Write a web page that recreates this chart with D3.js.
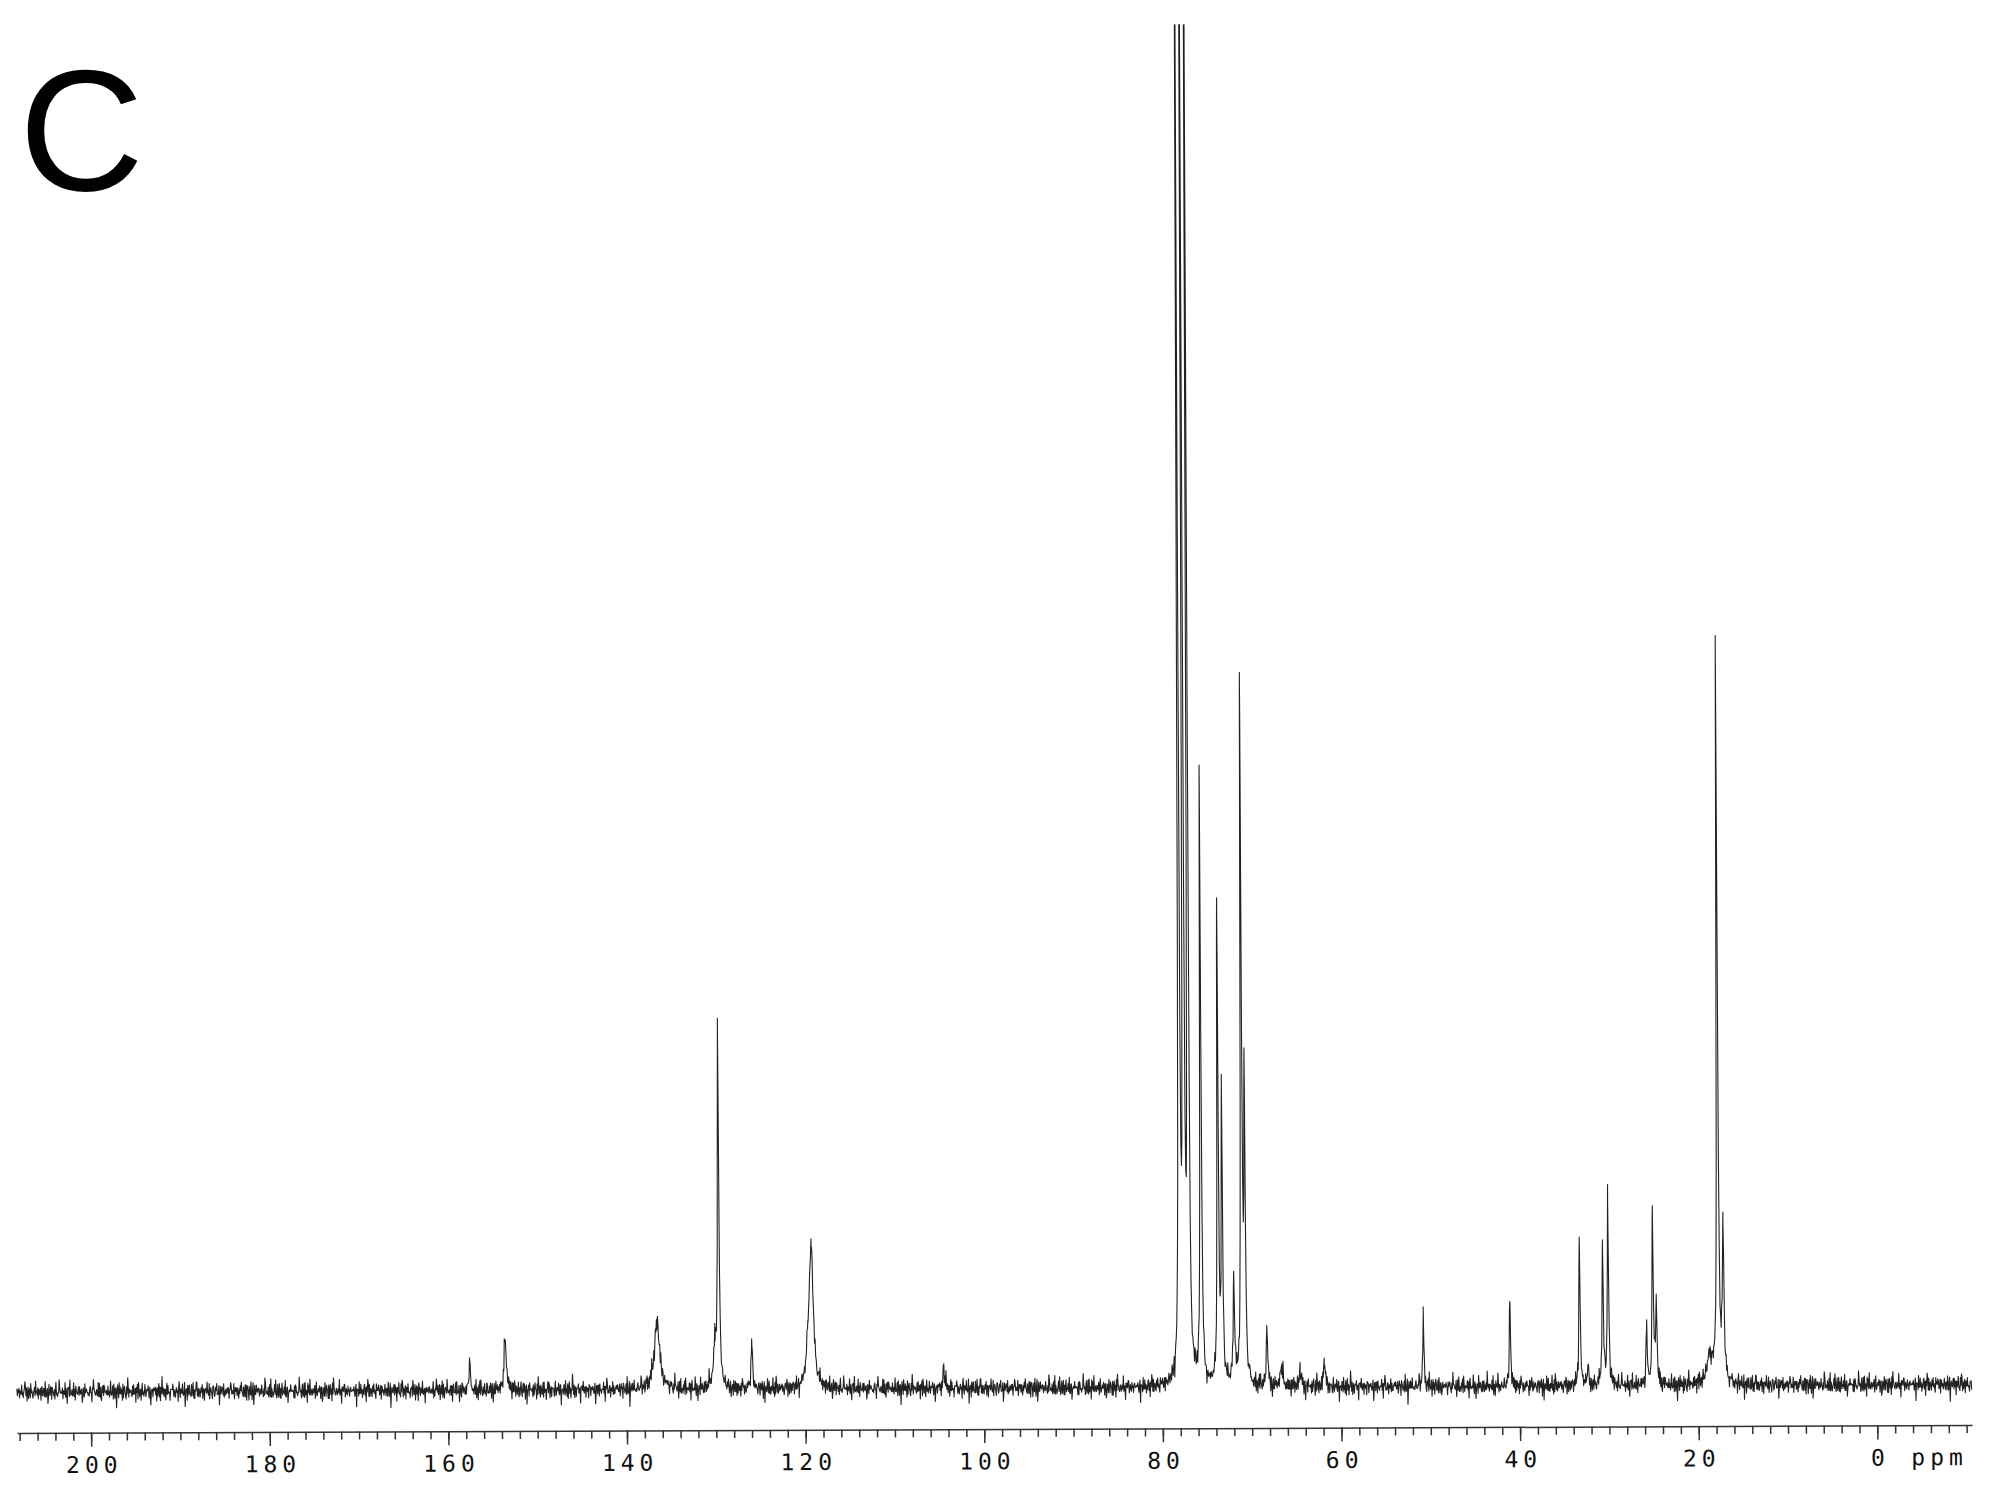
<!DOCTYPE html>
<html lang="en">
<head>
    <meta charset="UTF-8">
    <title>13C NMR spectrum C</title>
    <script src="https://cdnjs.cloudflare.com/ajax/libs/d3/7.8.5/d3.min.js"></script>
</head>

<style>
body { margin: 0; background: #fff; }
.spec { fill: none; stroke: #222; stroke-width: 1.1; stroke-linejoin: round; }
.axis path, .axis line { stroke: #333; stroke-width: 1.5; }
.axis text { font-family: "DejaVu Sans Mono", monospace; font-size: 23px; fill: #111; letter-spacing: 5px; }
</style>

<body>
<script>

    // peak list: chemical shift (ppm), height (px above baseline), half width (ppm)
    var peakPpm    = [157.6, 153.6, 136.6, 130.1, 129.7, 126.0, 119.7, 119.3, 104.5,
                      78.05, 77.55, 77.04, 75.65, 73.75, 73.3, 72.0, 71.1, 70.75, 68.3, 66.7, 64.6, 61.9,
                      50.8, 41.1, 33.3, 32.4, 30.7, 30.1, 25.8, 25.1, 24.7, 18.7, 17.8, 17.2];
    var peakHeight = [30, 50, 68, 40, 350, 45, 30, 140, 20,
                      1800, 1900, 1800, 610, 475, 290, 100, 690, 300, 56, 20, 16, 28,
                      74, 94, 148, 16, 142, 188, 58, 176, 86, 28, 740, 155];
    var peakWidth  = [0.08, 0.15, 0.35, 0.2, 0.09, 0.1, 0.2, 0.25, 0.1,
                      0.06, 0.06, 0.06, 0.08, 0.08, 0.08, 0.1, 0.08, 0.08, 0.1, 0.15, 0.15, 0.1,
                      0.07, 0.07, 0.08, 0.1, 0.08, 0.08, 0.08, 0.08, 0.08, 0.4, 0.08, 0.1];

    var noiseA = [1,-2,3,-1,0,-4,2,-3,1,4,-2,0,-5,2,-1,8,3,-2,1,-3,0,2,-4,-1,3,-2,5,-3,1,-1,-6,2,
                  0,3,-2,6,1,-3,-1,2,-4,0,3,-2,1,-5,2,4,-1,-3,0,2,-2,5,-1,-4,1,3,-9,-2,2,0,-3,4];
    var noiseB = [2,-1,-3,1,4,0,-2,3,-4,1,0,-1,2,-3,5,-2,1,-1,3,-5,0,2,-1];

    var majorTicks = d3.range(0, 201, 20);
    var minorTicks = d3.range(-10, 209, 2);

    var W = 1992, H = 1491;
    var plotTop = 25, baseY = 1388, axisY = 1429;

    var svg = d3.select("body").append("svg")
        .attr("width", W)
        .attr("height", H);

    svg.append("text")
        .attr("x", 19)
        .attr("y", 190)
        .style("font-family", "Liberation Sans, Arial, sans-serif")
        .style("font-size", "173px")
        .text("C");

    var x = d3.scaleLinear().domain([208.3, -10.6]).range([17, 1972]);
    var y = d3.scaleLinear().domain([0, baseY - plotTop]).range([baseY, plotTop]);

    var g = svg.append("g")
        .attr("transform", "rotate(-0.23," + (W / 2) + "," + axisY + ")");

    g.append("clipPath").attr("id", "clip")
        .append("rect")
        .attr("x", 0).attr("y", plotTop)
        .attr("width", W).attr("height", H - plotTop);

    var pts = d3.range(208.3, -10.6, -0.06).concat(peakPpm).sort(function(a, b) { return b - a; });

    var spectrum = pts.map(function(p, i) {
        var v = 0;
        for (var k = 0; k < peakPpm.length; k++) {
            var d = (p - peakPpm[k]) / peakWidth[k];
            v += peakHeight[k] / (1 + d * d);
        }
        v += 1.5 * (noiseA[i % noiseA.length] + 0.6 * noiseB[i % noiseB.length]);
        return [p, v];
    });

    var line = d3.line()
        .x(function(d) { return x(d[0]); })
        .y(function(d) { return y(d[1]); });

    g.append("path")
        .datum(spectrum)
        .attr("class", "spec")
        .attr("clip-path", "url(#clip)")
        .attr("d", line);

    // minor ticks
    g.append("g")
        .attr("class", "axis")
        .attr("transform", "translate(0," + axisY + ")")
        .call(d3.axisBottom(x).tickValues(minorTicks).tickSize(8).tickSizeOuter(0).tickFormat(""));

    // major ticks with labels
    var ax = g.append("g")
        .attr("class", "axis")
        .attr("transform", "translate(0," + axisY + ")")
        .call(d3.axisBottom(x).tickValues(majorTicks).tickSize(14).tickSizeOuter(0).tickPadding(10));
    ax.select(".domain").remove();
    ax.selectAll("text").attr("dx", 2.5).attr("font-family", null).attr("font-size", null);

    g.append("text")
        .attr("x", 1937)
        .attr("y", axisY + 40)
        .attr("text-anchor", "middle")
        .attr("dx", 2.5)
        .style("font-family", "DejaVu Sans Mono, monospace")
        .style("font-size", "23px")
        .style("letter-spacing", "5px")
        .style("fill", "#111")
        .text("ppm");

</script>
</body>
</html>
